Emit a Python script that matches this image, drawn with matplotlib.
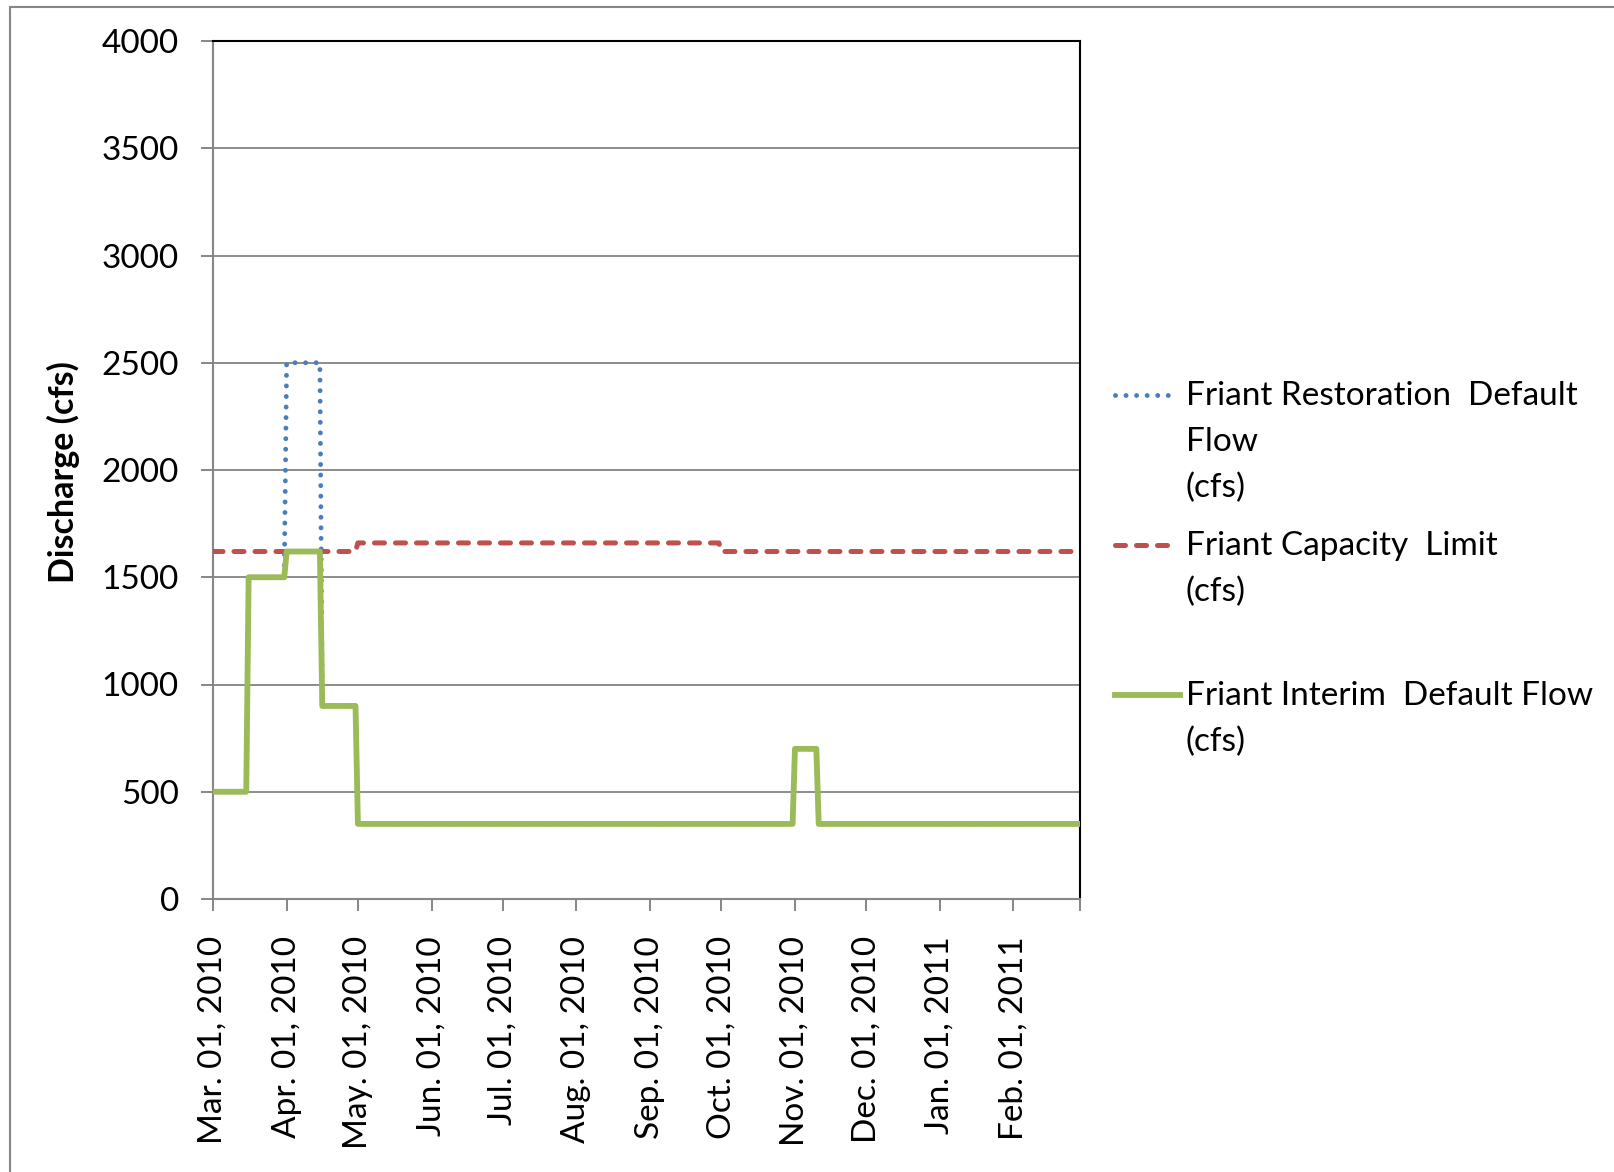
import matplotlib
matplotlib.use("Agg")
import matplotlib.pyplot as plt
from matplotlib.lines import Line2D
from matplotlib.patches import Rectangle
import pandas as pd

plt.rcParams['font.family'] = ['Lato', 'DejaVu Sans']

# corner points of the daily step series (cfs)
flow_dates = ['2010-03-01', '2010-03-15', '2010-03-16', '2010-03-31', '2010-04-01',
              '2010-04-15', '2010-04-16', '2010-04-30', '2010-05-01', '2010-10-31',
              '2010-11-01', '2010-11-10', '2010-11-11', '2011-02-28']
restoration_flow = [500, 500, 1500, 1500, 2500, 2500, 900, 900, 350, 350, 700, 700, 350, 350]
interim_flow = [500, 500, 1500, 1500, 1620, 1620, 900, 900, 350, 350, 700, 700, 350, 350]

capacity_dates = ['2010-03-01', '2010-04-30', '2010-05-01', '2010-09-30', '2010-10-01', '2011-02-28']
capacity_flow = [1620, 1620, 1660, 1660, 1620, 1620]

tick_dates = ['2010-03-01', '2010-04-01', '2010-05-01', '2010-06-01', '2010-07-01', '2010-08-01',
              '2010-09-01', '2010-10-01', '2010-11-01', '2010-12-01', '2011-01-01', '2011-02-01',
              '2011-03-01']
tick_labels = ['Mar. 01, 2010', 'Apr. 01, 2010', 'May. 01, 2010', 'Jun. 01, 2010', 'Jul. 01, 2010',
               'Aug. 01, 2010', 'Sep. 01, 2010', 'Oct. 01, 2010', 'Nov. 01, 2010', 'Dec. 01, 2010',
               'Jan. 01, 2011', 'Feb. 01, 2011', '']

legend_labels = [['Friant Restoration  Default', 'Flow', '(cfs)'],
                 ['Friant Capacity  Limit', '(cfs)'],
                 ['Friant Interim  Default Flow', '(cfs)']]

blue = '#4A7EBB'
red = '#C0504D'
green = '#9BBB59'
grid_gray = '#8C8C8C'

W, H = 1615, 1172
fig = plt.figure(figsize=(W / 100, H / 100), dpi=100)

# chart border (only left and top edges fall inside the picture)
fig.add_artist(Rectangle((10 / W, -0.1), 2.0, 1 - 7 / H + 0.1, transform=fig.transFigure,
                         fill=False, edgecolor='#868686', lw=1.5))

ax = fig.add_axes([213 / W, 1 - 899 / H, 867 / W, 858 / H])

blue_style = dict(color=blue, lw=3.5, linestyle=(0, (0.01, 2.16)), dash_capstyle='round')
red_style = dict(color=red, lw=3.6, linestyle=(0, (2.0, 2.2)), dash_capstyle='round')
green_style = dict(color=green, lw=4.2, solid_joinstyle='round')

fd = pd.to_datetime(flow_dates)
cd = pd.to_datetime(capacity_dates)
ax.plot(fd, restoration_flow, zorder=3, **blue_style)
ax.plot(cd, capacity_flow, zorder=4, **red_style)
ax.plot(fd, interim_flow, zorder=5, **green_style)

ax.set_xlim(pd.Timestamp('2010-03-01'), pd.Timestamp('2011-03-01'))
ax.set_ylim(0, 4000)
ax.set_yticks(range(0, 4001, 500))
ax.set_xticks(pd.to_datetime(tick_dates))
ax.set_xticklabels(tick_labels, rotation=90)

ax.yaxis.grid(True, color=grid_gray, lw=1.4)
ax.set_axisbelow(True)
ax.tick_params(axis='y', length=8.6, width=1.4, color='#868686', pad=16, labelsize=24)
ax.tick_params(axis='x', length=8.6, width=1.4, color='#868686', pad=18, labelsize=24)

for s in ['left', 'bottom']:
    ax.spines[s].set_color('#868686')
    ax.spines[s].set_linewidth(1.5)
for s in ['top', 'right']:
    ax.spines[s].set_color('black')
    ax.spines[s].set_linewidth(1.5)

fig.text(63 / W, 1 - 472 / H, 'Discharge (cfs)', rotation=90, ha='center', va='center',
         fontsize=24.5, fontweight='bold')

# legend, drawn by hand to keep Excel's uneven spacing
handles = [blue_style, red_style, dict(color=green, lw=4.2)]
handle_y = [395, 545, 695]
handle_x1 = [1173, 1173, 1180]
first_baseline = [405, 555, 705]
for i in range(3):
    fig.add_artist(Line2D([1115 / W, handle_x1[i] / W], [1 - handle_y[i] / H, 1 - handle_y[i] / H],
                          transform=fig.transFigure, **handles[i]))
    for j, line in enumerate(legend_labels[i]):
        fig.text(1186 / W, 1 - (first_baseline[i] + 46 * j) / H, line, ha='left',
                 va='baseline', fontsize=24)

fig.savefig('out.png', dpi=100)
